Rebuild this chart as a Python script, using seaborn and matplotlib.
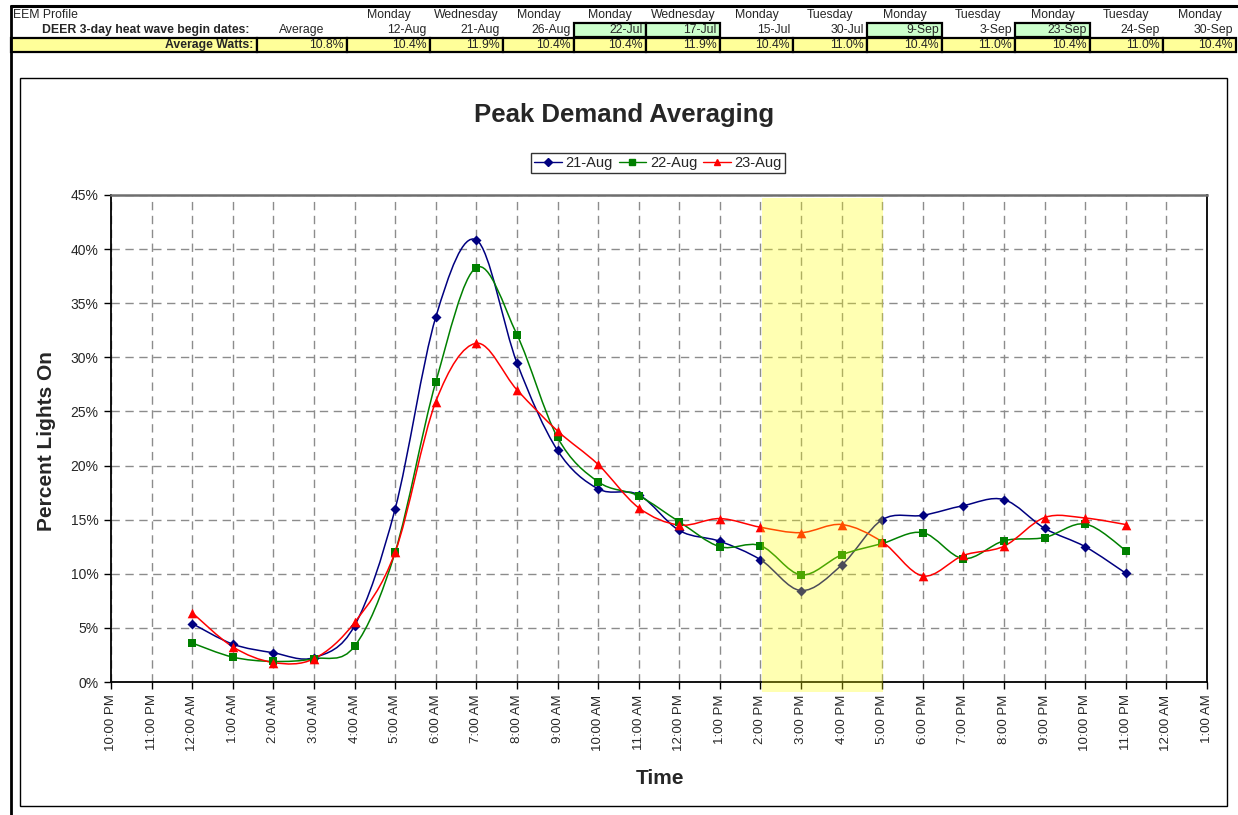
import numpy as np
import pandas as pd
import matplotlib
matplotlib.use("Agg")
import matplotlib.pyplot as plt
import seaborn as sns
from matplotlib.path import Path
from matplotlib.patches import PathPatch, Rectangle
from matplotlib.lines import Line2D
from matplotlib.ticker import FuncFormatter

# ---------------- data ----------------
axis_labels = ["10:00 PM", "11:00 PM", "12:00 AM", "1:00 AM", "2:00 AM", "3:00 AM",
               "4:00 AM", "5:00 AM", "6:00 AM", "7:00 AM", "8:00 AM", "9:00 AM",
               "10:00 AM", "11:00 AM", "12:00 PM", "1:00 PM", "2:00 PM", "3:00 PM",
               "4:00 PM", "5:00 PM", "6:00 PM", "7:00 PM", "8:00 PM", "9:00 PM",
               "10:00 PM", "11:00 PM", "12:00 AM", "1:00 AM"]
first_hour_slot = 2  # series start at 12:00 AM

aug21 = [5.4, 3.5, 2.7, 2.25, 5.2, 16.0, 33.7, 40.85, 29.5, 21.4, 17.85, 17.3,
         14.0, 13.0, 11.3, 8.45, 10.8, 15.0, 15.4, 16.3, 16.85, 14.2, 12.5, 10.05]
aug22 = [3.6, 2.3, 1.9, 2.15, 3.3, 12.0, 27.7, 38.3, 32.1, 22.6, 18.5, 17.2,
         14.8, 12.5, 12.6, 9.9, 11.75, 12.8, 13.8, 11.4, 13.05, 13.35, 14.6, 12.15]
aug23 = [6.4, 3.25, 1.8, 2.15, 5.5, 12.0, 25.9, 31.3, 27.0, 23.2, 20.1, 16.1,
         14.5, 15.1, 14.3, 13.8, 14.55, 12.95, 9.8, 11.7, 12.55, 15.2, 15.15, 14.55]
series_names = ["21-Aug", "22-Aug", "23-Aug"]
peak_window = ("2:00 PM", "5:00 PM")

y_ticks = [0, 5, 10, 15, 20, 25, 30, 35, 40, 45]

# header table
hdr_days = ["", "Monday", "Wednesday", "Monday", "Monday", "Wednesday", "Monday",
            "Tuesday", "Monday", "Tuesday", "Monday", "Tuesday", "Monday"]
hdr_dates = ["Average", "12-Aug", "21-Aug", "26-Aug", "22-Jul", "17-Jul", "15-Jul",
             "30-Jul", "9-Sep", "3-Sep", "23-Sep", "24-Sep", "30-Sep"]
hdr_watts = ["10.8%", "10.4%", "11.9%", "10.4%", "10.4%", "11.9%", "10.4%",
             "11.0%", "10.4%", "11.0%", "10.4%", "11.0%", "10.4%"]
hdr_selected = ["22-Jul", "17-Jul", "9-Sep", "23-Sep"]

# ---------------- style ----------------
sns.set_style("white")
plt.rcParams["font.family"] = ["Liberation Sans", "DejaVu Sans"]

W, H = 1238, 815
fig = plt.figure(figsize=(W / 100, H / 100), dpi=100)


def fx(px):
    return px / W


def fy(py):
    return 1 - py / H


ax = fig.add_axes([fx(111), fy(682), fx(1207) - fx(111), fy(195) - fy(682)])

colors = {"21-Aug": "#000080", "22-Aug": "#008000", "23-Aug": "#FF0000"}
markers = {"21-Aug": "D", "22-Aug": "s", "23-Aug": "^"}
msizes = {"21-Aug": 26, "22-Aug": 38, "23-Aug": 48}

positions = np.arange(first_hour_slot, first_hour_slot + len(aug21))
df = pd.DataFrame({
    "slot": np.tile(positions, 3),
    "pct": aug21 + aug22 + aug23,
    "day": np.repeat(series_names, len(aug21)),
})


def smooth_path(x, y):
    """Cardinal-spline Bezier path through the points (spreadsheet-style smoothing)."""
    pts = np.column_stack([x, y]).astype(float)
    n = len(pts)
    verts = [pts[0]]
    codes = [Path.MOVETO]
    for i in range(n - 1):
        p0 = pts[i - 1] if i > 0 else pts[i]
        p1, p2 = pts[i], pts[i + 1]
        p3 = pts[i + 2] if i + 2 < n else pts[i + 1]
        verts += [p1 + (p2 - p0) / 6.0, p2 - (p3 - p1) / 6.0, p2]
        codes += [Path.CURVE4] * 3
    return Path(verts, codes)


for name in series_names:
    sub = df[df["day"] == name]
    ax.add_patch(PathPatch(smooth_path(sub["slot"], sub["pct"]), facecolor="none",
                           edgecolor=colors[name], lw=1.1, zorder=3))
    sns.scatterplot(data=sub, x="slot", y="pct", marker=markers[name],
                    color=colors[name], s=msizes[name], linewidth=0, ax=ax,
                    zorder=4, legend=False)

# highlighted peak window
x0 = axis_labels.index(peak_window[0], first_hour_slot)
x1 = axis_labels.index(peak_window[1], first_hour_slot)
ax.add_patch(Rectangle((x0 + 0.03, -0.021), (x1 - x0), 1.015,
                       transform=ax.get_xaxis_transform(), facecolor="#FFFF00",
                       alpha=0.3, edgecolor="none", zorder=5, clip_on=False))

# axes
ax.set_xlim(0, len(axis_labels) - 1)
ax.set_ylim(0, 45)
ax.set_xticks(range(len(axis_labels)))
ax.set_xticklabels(axis_labels, rotation=90, fontsize=9.5)
ax.set_yticks(y_ticks)
ax.yaxis.set_major_formatter(FuncFormatter(lambda v, p: f"{v:.0f}%"))
ax.tick_params(axis="y", labelsize=10, direction="out", length=5, width=1,
               color="black", left=True, pad=4)
ax.tick_params(axis="x", direction="out", length=5, width=1, color="black",
               bottom=True, pad=4)
ax.set_xlabel("")
ax.set_ylabel("")
ax.grid(True, color="#8c8c8c", linestyle=(0, (6, 4)), linewidth=1)
ax.set_axisbelow(True)
for side in ["left", "bottom", "right"]:
    ax.spines[side].set_color("black")
    ax.spines[side].set_linewidth(1.3)
ax.spines["top"].set_color("#6e6e6e")
ax.spines["top"].set_linewidth(1.8)

# titles
fig.text(fx(624), fy(115), "Peak Demand Averaging", ha="center", va="center",
         fontsize=18.5, fontweight="bold")
fig.text(fx(47), fy(441), "Percent Lights On", ha="center", va="center",
         rotation=90, fontsize=15, fontweight="bold")
fig.text(fx(660), fy(779), "Time", ha="center", va="center", fontsize=15,
         fontweight="bold")

handles = [Line2D([], [], color=colors[n], marker=markers[n], lw=1,
                  markersize=5 if n != "21-Aug" else 4.5) for n in series_names]
leg = fig.legend(handles, series_names, loc="center",
                 bbox_to_anchor=(fx(658), fy(163)), ncol=3, fontsize=10.5,
                 frameon=True, fancybox=False, edgecolor="black",
                 handlelength=1.9, handletextpad=0.25, columnspacing=0.4,
                 borderpad=0.2, borderaxespad=0)
leg.get_frame().set_linewidth(1)

# chart border and sheet borders
fig.patches.append(Rectangle((fx(20), fy(806)), fx(1227) - fx(20), fy(78) - fy(806),
                             transform=fig.transFigure, facecolor="none",
                             edgecolor="black", lw=1, zorder=0))
fig.lines.append(Line2D([fx(11), fx(11)], [fy(6), fy(815)], transform=fig.transFigure,
                        color="black", lw=2))
fig.lines.append(Line2D([fx(11), 1], [fy(6), fy(6)], transform=fig.transFigure,
                        color="black", lw=2.2))

# header table
edges = [257, 347, 430, 503, 574, 646, 720, 793, 867, 942, 1015, 1090, 1163, 1236]
row_day, row_date, row_watt = 15, 30, 45
hdr_fs = 8.8
fig.text(fx(13), fy(row_day), "EEM Profile", ha="left", va="center", fontsize=hdr_fs)
fig.text(fx(250), fy(row_date), "DEER 3-day heat wave begin dates:", ha="right",
         va="center", fontsize=hdr_fs, fontweight="bold")
fig.patches.append(Rectangle((fx(11), fy(52)), fx(257) - fx(11), fy(38) - fy(52),
                             transform=fig.transFigure, facecolor="#FFFF99",
                             edgecolor="black", lw=1.6))
fig.text(fx(253), fy(row_watt), "Average Watts:", ha="right", va="center",
         fontsize=hdr_fs, fontweight="bold")
for i, (d, dt, wt) in enumerate(zip(hdr_days, hdr_dates, hdr_watts)):
    left, right = edges[i], edges[i + 1]
    if dt in hdr_selected:
        fig.patches.append(Rectangle((fx(left), fy(37)), fx(right) - fx(left),
                                     fy(23) - fy(37), transform=fig.transFigure,
                                     facecolor="#CCFFCC", edgecolor="black", lw=1.6))
    fig.patches.append(Rectangle((fx(left), fy(52)), fx(right) - fx(left),
                                 fy(38) - fy(52), transform=fig.transFigure,
                                 facecolor="#FFFF99", edgecolor="black", lw=1.6))
    if d:
        fig.text(fx((left + right) / 2), fy(row_day), d, ha="center", va="center",
                 fontsize=hdr_fs)
    if dt == "Average":
        fig.text(fx((left + right) / 2), fy(row_date), dt, ha="center", va="center",
                 fontsize=hdr_fs)
    else:
        fig.text(fx(right - 3), fy(row_date), dt, ha="right", va="center",
                 fontsize=hdr_fs)
    fig.text(fx(right - 3), fy(row_watt), wt, ha="right", va="center", fontsize=hdr_fs)

fig.savefig("out.png", dpi=100)
